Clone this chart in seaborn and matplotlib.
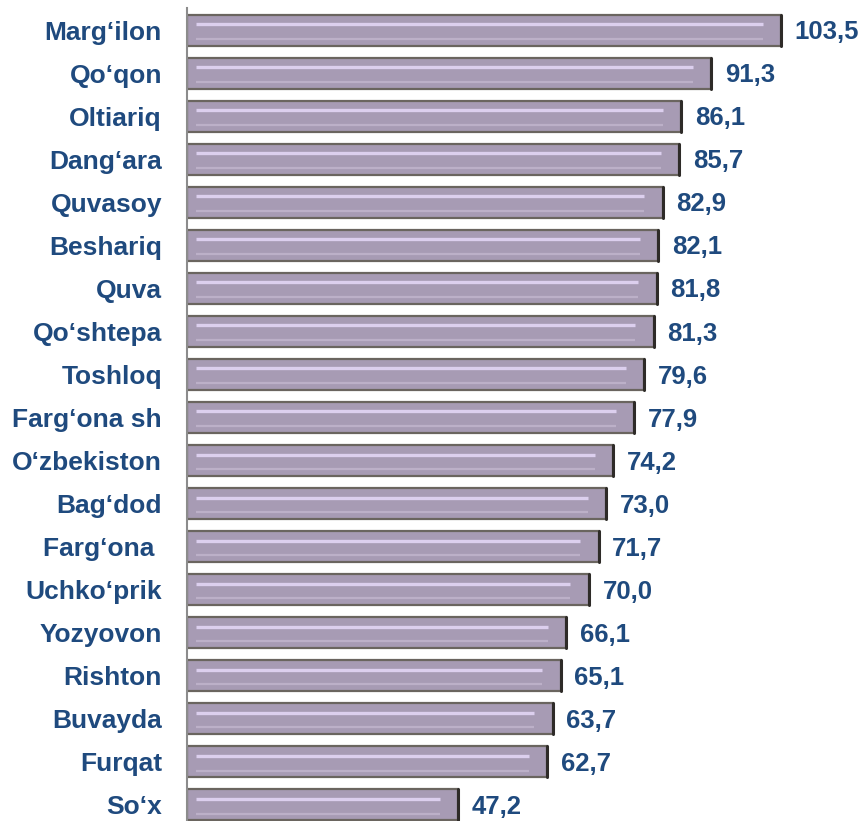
import matplotlib
matplotlib.use("Agg")
import matplotlib.pyplot as plt
import seaborn as sns
import pandas as pd

categories = ["Marg‘ilon", "Qo‘qon", "Oltiariq", "Dang‘ara", "Quvasoy", "Beshariq", "Quva",
              "Qo‘shtepa", "Toshloq", "Farg‘ona sh", "O‘zbekiston", "Bag‘dod", "Farg‘ona ",
              "Uchko‘prik", "Yozyovon", "Rishton", "Buvayda", "Furqat", "So‘x"]
values = [103.5, 91.3, 86.1, 85.7, 82.9, 82.1, 81.8, 81.3, 79.6, 77.9, 74.2, 73.0, 71.7,
          70.0, 66.1, 65.1, 63.7, 62.7, 47.2]

df = pd.DataFrame({"cat": categories, "val": values})

sns.set_theme(style="white")
plt.rcParams['font.family'] = ['Liberation Sans', 'DejaVu Sans']

fig = plt.figure(figsize=(8.66, 8.21), dpi=100)
ax = fig.add_axes([187/866, 1 - 826.5/821, 1 - 187/866, 818/821])

sns.barplot(data=df, x="val", y="cat", orient="h", color="#a79bb4", saturation=1,
            edgecolor="#6a655f", linewidth=1.6, width=0.72, ax=ax)

# bevel-like highlight stripes inside each bar
for i, v in enumerate(values):
    ax.plot([1.5, v - 3.2], [i - 0.14, i - 0.14], color="#dccfee", lw=2.4, solid_capstyle="butt", zorder=3)
    ax.plot([1.5, v - 3.2], [i + 0.2, i + 0.2], color="#bcb0c8", lw=1.6, solid_capstyle="butt", zorder=3)
    ax.plot([v, v], [i - 0.36, i + 0.36], color="#2e2b28", lw=2.2, zorder=4)

for i, v in enumerate(values):
    ax.text(v + 2.4, i + 0.05, f"{v:.1f}".replace(".", ","), va="center", ha="left",
            fontsize=18.5, fontweight="bold", color="#1f4a7e")

ax.set_xlim(0, 118.3)
ax.set_ylim(18.5, -0.5)
ax.set_xlabel("")
ax.set_ylabel("")
ax.set_xticks([])
ax.tick_params(axis="y", length=0, pad=18)
for lbl in ax.get_yticklabels():
    lbl.set_fontsize(19)
    lbl.set_fontweight("bold")
    lbl.set_color("#1f4a7e")
for s in ["top", "right", "bottom"]:
    ax.spines[s].set_visible(False)
ax.spines["left"].set_color("#8c8c8c")
ax.spines["left"].set_linewidth(1.5)

fig.savefig("out.png", dpi=100)
